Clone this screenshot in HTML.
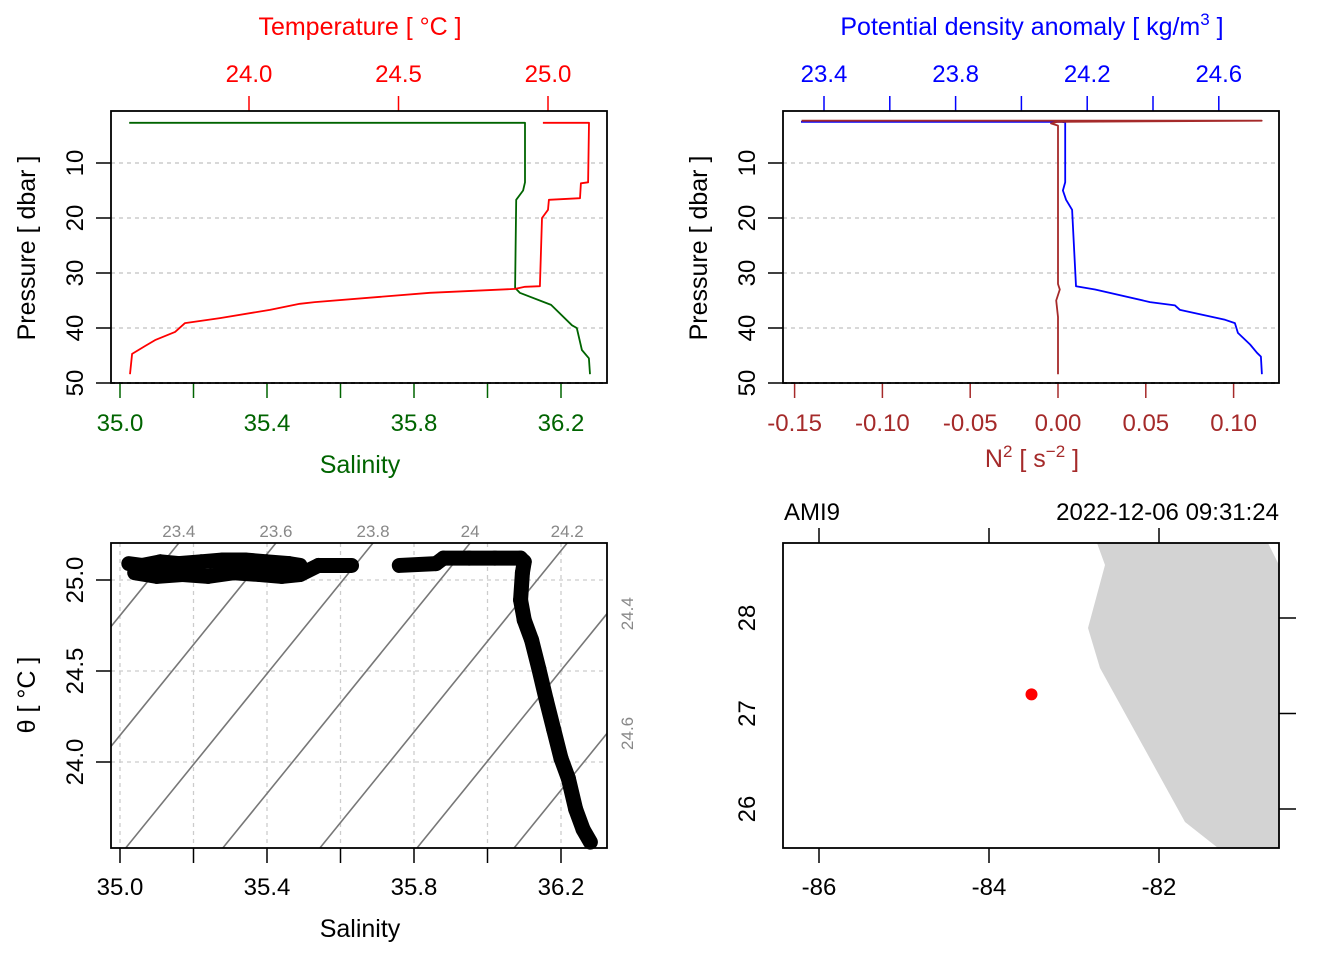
<!DOCTYPE html>
<html><head><meta charset="utf-8"><style>
html,body{margin:0;padding:0;background:#fff}
svg{display:block;font-family:"Liberation Sans",sans-serif}
</style></head><body>
<svg id="c" width="1344" height="960" viewBox="0 0 1344 960" xmlns="http://www.w3.org/2000/svg"></svg>
<script>
// ---------- data ----------
const salP = [2.7,2.7,13.5,15,16.7,32.7,33.6,35.8,39.5,40,44,45.5,48.4];
const salS = [35.025,36.102,36.102,36.097,36.078,36.075,36.088,36.173,36.23,36.243,36.257,36.276,36.279];
const tmpP = [2.7,2.7,13.5,13.7,16.4,16.7,18.5,20,32.4,32.5,32.9,33.6,35.3,35.6,36.7,38.2,39.1,40.7,42.2,43.3,44.7,48.4];
const tmpT = [24.983,25.137,25.134,25.110,25.107,25.003,25.0,24.98,24.973,24.923,24.89,24.605,24.22,24.17,24.07,23.903,23.786,23.753,23.686,23.652,23.609,23.602];
const sigP = [2.5,2.5,2.6,13.5,15,16.7,18.5,32.4,33,35.3,35.9,36.7,38.5,39.1,40.9,43,44.5,45.2,48.4];
const sigV = [23.33,24.123,24.133,24.133,24.126,24.136,24.154,24.166,24.224,24.391,24.467,24.482,24.619,24.649,24.658,24.695,24.716,24.728,24.731];
const n2P = [2.3,2.3,2.5,2.8,3.2,32,33,35,38,48.4];
const n2V = [-0.146,0.116,0.0,-0.004,0.0,0.0,0.001,-0.001,0.0,0.0];
const tsS = [35.024,35.06,35.11,35.16,35.22,35.28,35.34,35.40,35.46,35.49,35.04,35.10,35.17,35.24,35.31,35.38,35.44,35.49,
             35.54,35.63,35.76,35.86,35.88,35.95,36.02,36.09,36.10,36.095,36.09,36.10,36.12,36.14,36.16,36.18,36.20,36.22,36.24,36.26,36.28];
const tsT = [25.09,25.08,25.10,25.09,25.10,25.11,25.11,25.10,25.09,25.08,25.04,25.02,25.03,25.02,25.04,25.03,25.02,25.03,
             25.08,25.08,25.08,25.09,25.12,25.12,25.12,25.12,25.10,25.04,24.89,24.78,24.67,24.51,24.34,24.18,24.02,23.91,23.74,23.63,23.56];
const sigLevels = [23.4,23.6,23.8,24.0,24.2,24.4,24.6];
const coastLon = [-82.729,-82.635,-82.835,-82.694,-81.694,-81.306,-80.588,-80.588,-80.718];
const coastLat = [28.785,28.555,27.895,27.476,25.864,25.592,25.592,28.555,28.785];
const stationLon = [-83.5];
const stationLat = [27.2];
const sTicks = [35.0,35.2,35.4,35.6,35.8,36.0,36.2];
const sLabels = ["35.0","35.4","35.8","36.2"];
const tTicks = [24.0,24.5,25.0];
const pTicks = [10,20,30,40,50];
const sigTicks = [23.4,23.6,23.8,24.0,24.2,24.4,24.6];
const sigLabels = ["23.4","23.8","24.2","24.6"];
const n2Ticks = [-0.15,-0.10,-0.05,0.00,0.05,0.10];
const n2Labels = ["-0.15","-0.10","-0.05","0.00","0.05","0.10"];
const thTicks = [24.0,24.5,25.0];
const lonTicks = [-86,-84,-82];
const latTicks = [26,27,28];

// ---------- scales ----------
const xS = s => 120 + (s-35)*367.5;
const xT = t => 249 + (t-24)*299;
const yP = p => 108 + p*5.5;
const xSig = v => 824 + (v-23.4)*329;
const xN2 = v => 1058 + v*1756;
const yTh = t => 580 + (25-t)*182;
const xLon = l => 819 + (l+86)*85;
const yLat = l => 618 - (l-28)*95.5;

const svg = document.getElementById('c');
const NS = 'http://www.w3.org/2000/svg';
function el(tag, attrs, parent, text){
  const e = document.createElementNS(NS, tag);
  for (const k in attrs) e.setAttribute(k, attrs[k]);
  if (text !== undefined) e.textContent = text;
  (parent||svg).appendChild(e);
  return e;
}
function txt(x,y,s,col,anchor,rot,size,name,parent){
  const t = el('text',{x:x,y:y,fill:col,'font-size':size||24,'text-anchor':anchor||'middle'},parent,s);
  if (rot) t.setAttribute('transform','rotate(-90 '+x+' '+y+')');
  
  
  return t;
}
function line(x1,y1,x2,y2,col,w,dash,name,parent){
  const l = el('line',{x1:x1,y1:y1,x2:x2,y2:y2,stroke:col,'stroke-width':w||1.5},parent);
  if (dash) l.setAttribute('stroke-dasharray',dash);
  
  
  return l;
}
function poly(xs,ys,col,w,name,parent){
  const pts = xs.map((x,i)=>x.toFixed(1)+','+ys[i].toFixed(1)).join(' ');
  const p = el('polyline',{points:pts,fill:'none',stroke:col,'stroke-width':w||1.8,'stroke-linejoin':'round'},parent);
  
  
  return p;
}
function box(x,y,w,h,name){
  const r = el('rect',{x:x,y:y,width:w,height:h,fill:'none',stroke:'#000','stroke-width':1.8});
  
  
}
const GRID='#cccccc';

// ---------- panel 1: T/S profile ----------
const g1 = el('g',{});


pTicks.forEach(p=>{
  line(111,yP(p),607,yP(p),p===50?'#000':GRID,1.5,'4,4','pressure-grid-line',g1);
  line(96,yP(p),111,yP(p),'#000',1.5,null,'pressure-tick',g1);
  txt(83,yP(p),String(p),'#000','middle',true,24,'pressure-tick-label',g1);
});
poly(salP.map((p,i)=>xS(salS[i])),salP.map(yP),'#006400',1.8,'salinity-line',g1);
poly(tmpP.map((p,i)=>xT(tmpT[i])),tmpP.map(yP),'#ff0000',1.8,'temperature-line',g1);
tTicks.forEach(t=>{
  line(xT(t),96,xT(t),111,'#ff0000',1.5,null,'temperature-tick',g1);
  txt(xT(t),82,t.toFixed(1),'#ff0000','middle',false,24,'temperature-tick-label',g1);
});
sTicks.forEach(s=>line(xS(s),383,xS(s),398,'#006400',1.5,null,'salinity-tick',g1));
sLabels.forEach(s=>txt(xS(+s),431,s,'#006400','middle',false,24,'salinity-tick-label',g1));
box(111,111,496,272,'profile-panel-frame');
txt(360,35,'Temperature [ °C ]','#ff0000','middle',false,25,'temperature-axis-title',g1);
txt(360,473,'Salinity','#006400','middle',false,25,'salinity-axis-title',g1);
txt(35,248,'Pressure [ dbar ]','#000','middle',true,25,'pressure-axis-title',g1);

// ---------- panel 2: density / N2 ----------
const g2 = el('g',{});


pTicks.forEach(p=>{
  line(783,yP(p),1279,yP(p),p===50?'#000':GRID,1.5,'4,4','pressure-grid-line',g2);
  line(768,yP(p),783,yP(p),'#000',1.5,null,'pressure-tick',g2);
  txt(755,yP(p),String(p),'#000','middle',true,24,'pressure-tick-label',g2);
});
poly(sigP.map((p,i)=>xSig(sigV[i])),sigP.map(yP),'#0000ff',1.8,'density-line',g2);
poly(n2P.map((p,i)=>xN2(n2V[i])),n2P.map(yP),'#a52a2a',1.8,'n2-line',g2);
sigTicks.forEach(v=>line(xSig(v),96,xSig(v),111,'#0000ff',1.5,null,'density-tick',g2));
sigLabels.forEach(s=>txt(xSig(+s),82,s,'#0000ff','middle',false,24,'density-tick-label',g2));
n2Ticks.forEach(v=>line(xN2(v),383,xN2(v),398,'#a52a2a',1.5,null,'n2-tick',g2));
n2Labels.forEach(s=>txt(xN2(+s),431,s,'#a52a2a','middle',false,24,'n2-tick-label',g2));
box(783,111,496,272,'density-panel-frame');
const tt = txt(1032,35,'','#0000ff','middle',false,25,'density-axis-title',g2);
tt.innerHTML='Potential density anomaly [ kg/m<tspan dy="-10" font-size="17">3</tspan><tspan dy="10"> ]</tspan>';
const nt = txt(1032,467,'','#a52a2a','middle',false,25,'n2-axis-title',g2);
nt.innerHTML='N<tspan dy="-10" font-size="17">2</tspan><tspan dy="10"> [ s</tspan><tspan dy="-10" font-size="17">−2</tspan><tspan dy="10"> ]</tspan>';
txt(707,248,'Pressure [ dbar ]','#000','middle',true,25,'pressure-axis-title',g2);

// ---------- panel 3: TS diagram ----------
const g3 = el('g',{});


const cp = el('clipPath',{id:'tsclip'},g3);
el('rect',{x:111,y:543,width:496,height:305},cp);
sTicks.forEach(s=>line(xS(s),543,xS(s),848,GRID,1.3,'4,4','ts-grid-vertical',g3));
thTicks.forEach(t=>line(111,yTh(t),607,yTh(t),GRID,1.3,'4,4','ts-grid-horizontal',g3));
const gi = el('g',{'clip-path':'url(#tsclip)'},g3);
const thTop = 25 - (543-580)/182, thBot = 25 - (848-580)/182;
const sRight = 35 + (607-120)/367.5;
sigLevels.forEach(lv=>{
  const sAt = th => 35.16 + (lv - 23.4 + 0.304*(th-25.203))/0.757;
  line(xS(sAt(thTop)),543,xS(sAt(thBot)),848,'#777',1.6,null,'isopycnal-line',gi);
  const xt = xS(sAt(thTop));
  if (xt>111 && xt<607) txt(xt,537,String(+lv.toFixed(1)),'#888','middle',false,17,'isopycnal-label',g3);
  else {
    const th = 25.203 + (0.757*(sRight-35.16) - (lv-23.4))/0.304;
    const yy = yTh(th);
    if (yy>543 && yy<848) txt(633,yy,lv.toFixed(1),'#888','middle',true,17,'isopycnal-label',g3);
  }
});
for (let i=1;i<tsS.length;i++){
  const x1=xS(tsS[i-1]),y1=yTh(tsT[i-1]),x2=xS(tsS[i]),y2=yTh(tsT[i]);
  if (Math.hypot(x2-x1,y2-y1)<45 && Math.abs(x2-x1)<40) {
    const l = line(x1,y1,x2,y2,'#000',15,null,'ts-track',g3);
    l.setAttribute('stroke-linecap','round');
  }
}
tsS.forEach((s,i)=>{
  const c = el('circle',{cx:xS(s),cy:yTh(tsT[i]),r:6,fill:'none',stroke:'#000','stroke-width':1.8},g3);
  
  
});
sTicks.forEach(s=>line(xS(s),848,xS(s),863,'#000',1.5,null,'ts-salinity-tick',g3));
sLabels.forEach(s=>txt(xS(+s),895,s,'#000','middle',false,24,'ts-salinity-tick-label',g3));
thTicks.forEach(t=>{
  line(96,yTh(t),111,yTh(t),'#000',1.5,null,'theta-tick',g3);
  txt(83,yTh(t),t.toFixed(1),'#000','middle',true,24,'theta-tick-label',g3);
});
box(111,543,496,305,'ts-panel-frame');
txt(360,937,'Salinity','#000','middle',false,25,'ts-salinity-axis-title',g3);
txt(35,695,'θ [ °C ]','#000','middle',true,25,'theta-axis-title',g3);

// ---------- panel 4: map ----------
const g4 = el('g',{});


const land = el('polygon',{points:coastLon.map((l,i)=>xLon(l).toFixed(1)+','+yLat(coastLat[i]).toFixed(1)).join(' '),fill:'#d3d3d3',stroke:'none'},g4);


stationLon.forEach((l,i)=>{
  const c = el('circle',{cx:xLon(l),cy:yLat(stationLat[i]),r:6,fill:'#ff0000'},g4);
  
  
});
lonTicks.forEach(l=>{
  line(xLon(l),848,xLon(l),863,'#000',1.5,null,'longitude-tick',g4);
  line(xLon(l),528,xLon(l),543,'#000',1.5,null,'longitude-top-tick',g4);
  txt(xLon(l),895,String(l),'#000','middle',false,24,'longitude-tick-label',g4);
});
latTicks.forEach(l=>{
  line(1279,yLat(l),1296,yLat(l),'#000',1.5,null,'latitude-tick',g4);
  txt(755,yLat(l),String(l),'#000','middle',true,24,'latitude-tick-label',g4);
});
box(783,543,496,305,'map-panel-frame');
txt(784,520,'AMI9','#000','start',false,24,'station-name',g4);
txt(1279,520,'2022-12-06 09:31:24','#000','end',false,24,'station-time',g4);
</script>
</body></html>
